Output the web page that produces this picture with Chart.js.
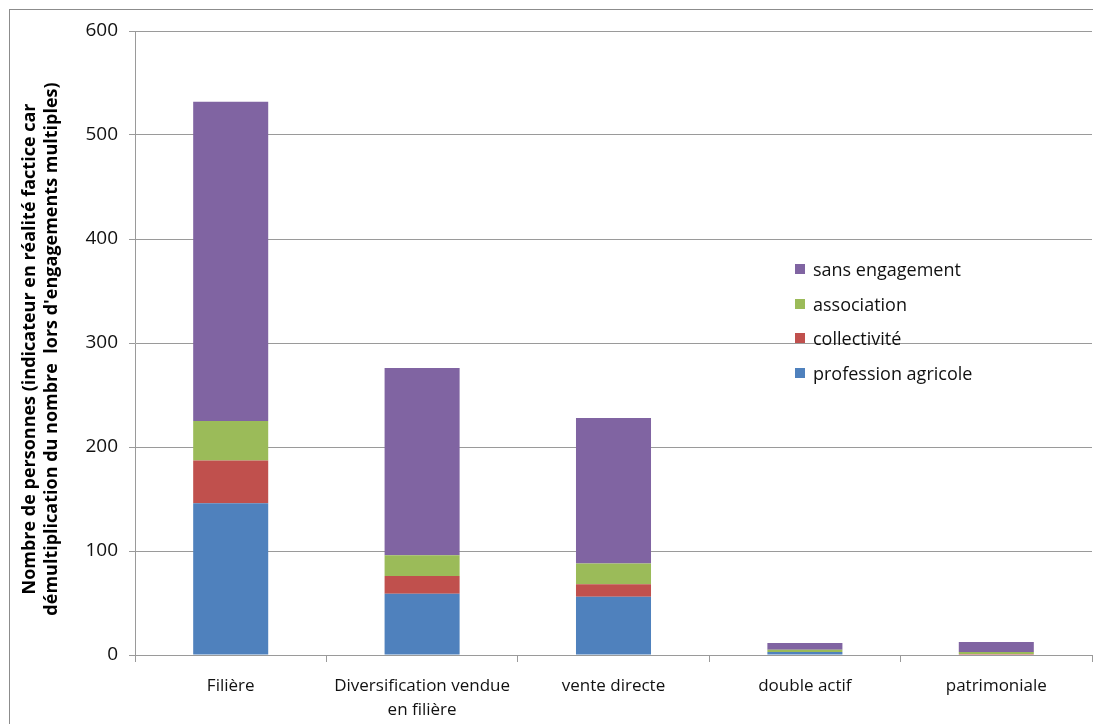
<!DOCTYPE html>
<html><head><meta charset="utf-8">
<script src="https://cdn.jsdelivr.net/npm/chart.js@4"></script>
<style>
html,body{margin:0;padding:0;background:#fff;}
#wrap{position:relative;width:1093px;height:724px;overflow:hidden;}
#frame{position:absolute;left:9px;top:9px;width:1200px;height:800px;border:1px solid #8c8c8c;box-sizing:border-box;pointer-events:none;}
#legend{position:absolute;left:795px;top:252px;font-family:"Open Sans",sans-serif;font-size:18px;color:#111;}
#legend div{height:34.5px;display:flex;align-items:center;}
#legend span.sw{display:inline-block;width:10px;height:10px;margin-right:8px;}
</style></head>
<body><div id="wrap"><canvas id="c" width="1093" height="724"></canvas><div id="frame"></div><div id="legend"></div></div>
<script>
const categories = ["Filière", ["Diversification vendue","en filière"], "vente directe", "double actif", "patrimoniale"];
const professionAgricole = [146, 59, 56, 3, 0];
const collectivite = [41, 17, 12, 0, 1];
const association = [38, 20, 20, 2, 2];
const sansEngagement = [307, 180, 140, 6.5, 9.5];
const yTicks = [0, 100, 200, 300, 400, 500, 600];
const yTitle = ["Nombre de personnes (indicateur en réalité factice car", "démultiplication du nombre  lors d'engagements multiples)"];
const seriesNames = ["profession agricole", "collectivité", "association", "sans engagement"];
const seriesColors = ["#4F81BD", "#C0504D", "#9BBB59", "#8064A2"];
const seriesData = [professionAgricole, collectivite, association, sansEngagement];

const datasets = seriesData.map((d, i) => ({
  label: seriesNames[i], data: d, backgroundColor: seriesColors[i],
  borderWidth: 0, categoryPercentage: 1, barPercentage: 0.392
}));

const lg = document.getElementById('legend');
for (let i = seriesNames.length - 1; i >= 0; i--) {
  const r = document.createElement('div');
  r.innerHTML = '<span class="sw" style="background:' + seriesColors[i] + '"></span>' + seriesNames[i];
  lg.appendChild(r);
}

const yTitlePlugin = {
  id: 'yTitle',
  afterDraw(chart) {
    const ctx = chart.ctx;
    ctx.save();
    ctx.translate(0, 349);
    ctx.rotate(-Math.PI / 2);
    ctx.font = 'bold 18px "Open Sans", sans-serif';
    ctx.fillStyle = '#000';
    ctx.textAlign = 'center';
    ctx.textBaseline = 'middle';
    ctx.fillText(yTitle[0], 0, 30);
    ctx.fillText(yTitle[1], 0, 52);
    ctx.restore();
  }
};

new Chart(document.getElementById('c'), {
  type: 'bar',
  data: { labels: categories, datasets },
  plugins: [yTitlePlugin],
  options: {
    responsive: false, animation: false,
    layout: { padding: { left: 10, top: 31, right: 1, bottom: 0 } },
    plugins: { legend: { display: false }, tooltip: { enabled: false } },
    scales: {
      x: {
        stacked: true,
        grid: { drawOnChartArea: false, drawTicks: true, tickLength: 7, color: '#9a9a9a', offset: true },
        border: { color: '#9a9a9a' },
        ticks: { color: '#111', font: { family: 'Open Sans', size: 17, lineHeight: 1.4 }, padding: 12, maxRotation: 0, autoSkip: false },
        afterFit: s => { s.height = 69; }
      },
      y: {
        stacked: true, min: 0, max: 600,
        afterBuildTicks: s => { s.ticks = yTicks.map(v => ({ value: v })); },
        grid: { color: '#9a9a9a', tickLength: 6, drawTicks: true },
        border: { color: '#9a9a9a' },
        ticks: { color: '#111', font: { family: 'Open Sans', size: 19 }, padding: 11 },
        afterFit: s => { s.width = 125; }
      }
    }
  }
});
</script></body></html>
